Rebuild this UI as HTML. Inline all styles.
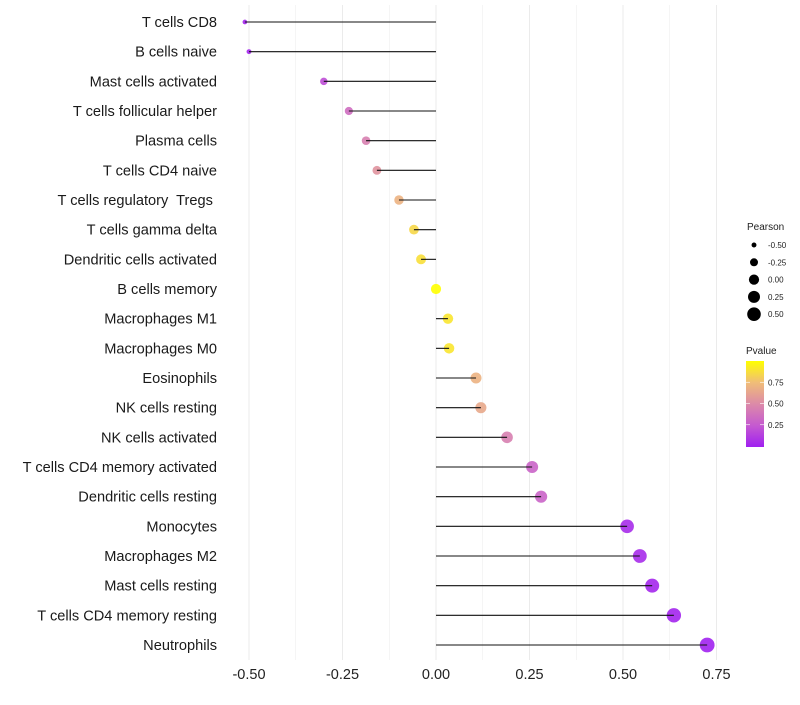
<!DOCTYPE html>
<html><head><meta charset="utf-8"><style>
body{margin:0;background:#fff;font-family:"Liberation Sans",sans-serif}
text{white-space:pre}
</style></head><body>
<svg id="c" width="800" height="700" xmlns="http://www.w3.org/2000/svg">
<defs><linearGradient id="pg" x1="0" y1="1" x2="0" y2="0">
<stop offset="0" stop-color="#a020f0"/><stop offset="0.25" stop-color="#c55ad0"/><stop offset="0.5" stop-color="#dc8aa8"/><stop offset="0.75" stop-color="#f0bd78"/><stop offset="1" stop-color="#ffff00"/></linearGradient></defs>
</svg>
<script>
const categories=["T cells CD8","B cells naive","Mast cells activated","T cells follicular helper","Plasma cells","T cells CD4 naive","T cells regulatory  Tregs ","T cells gamma delta","Dendritic cells activated","B cells memory","Macrophages M1","Macrophages M0","Eosinophils","NK cells resting","NK cells activated","T cells CD4 memory activated","Dendritic cells resting","Monocytes","Macrophages M2","Mast cells resting","T cells CD4 memory resting","Neutrophils"];
const pearson=[-0.511,-0.50,-0.30,-0.233,-0.187,-0.158,-0.099,-0.059,-0.04,0.0,0.032,0.035,0.107,0.12,0.19,0.257,0.281,0.511,0.545,0.578,0.636,0.725];
const pvalue=[0.02,0.02,0.2,0.35,0.45,0.55,0.7,0.85,0.88,1.0,0.9,0.9,0.7,0.65,0.45,0.3,0.3,0.05,0.05,0.03,0.02,0.01];
const xTicks=[-0.5,-0.25,0,0.25,0.5,0.75];
const xTickLabels=["-0.50","-0.25","0.00","0.25","0.50","0.75"];
const legendSizes=[-0.5,-0.25,0,0.25,0.5];
const legendSizeLabels=["-0.50","-0.25","0.00","0.25","0.50"];
const pTicks=[0.25,0.5,0.75];

const svg=document.getElementById('c');const NS="http://www.w3.org/2000/svg";
function el(t,a,p){const e=document.createElementNS(NS,t);for(const k in a)e.setAttribute(k,a[k]);(p||svg).appendChild(e);return e;}
const x=v=>436+v*374;
const y=i=>22+i*(623/21);
const r=v=>Math.sqrt(Math.max(2,26+40*v));
const stops=[[0,[160,32,240]],[0.25,[197,90,208]],[0.5,[220,138,168]],[0.75,[240,189,120]],[1,[255,255,0]]];
function col(p){for(let i=1;i<stops.length;i++){if(p<=stops[i][0]){const a=stops[i-1],b=stops[i],t=(p-a[0])/(b[0]-a[0]);return 'rgb('+a[1].map((c,j)=>Math.round(c+(b[1][j]-c)*t)).join(',')+')';}}return 'rgb(255,255,0)';}
for(let v=-0.5;v<=0.751;v+=0.125){const g=el('line',{x1:x(v),x2:x(v),y1:5,y2:660,stroke:'#ebebeb','stroke-width':Math.abs(v*4-Math.round(v*4))<1e-6?1:0.5});
}
xTicks.forEach((v,i)=>{const t=el('text',{x:x(v),y:679,'text-anchor':'middle','font-size':14.5,fill:'#222'});t.textContent=xTickLabels[i];
});
categories.forEach((c,i)=>{
const t=el('text',{x:217,y:y(i)+5,'text-anchor':'end','font-size':14.6,fill:'#1a1a1a'});t.textContent=c;

const d=el('circle',{cx:x(pearson[i]),cy:y(i),r:r(pearson[i]),fill:col(pvalue[i]),'fill-opacity':0.9});

const l=el('line',{x1:x(0),x2:x(pearson[i]),y1:y(i),y2:y(i),stroke:'#111','stroke-width':1.1});

});
const lt=el('text',{x:747,y:230,'font-size':10,fill:'#222'});lt.textContent='Pearson';

legendSizes.forEach((v,i)=>{const cy=245+i*17.3;
const c=el('circle',{cx:754,cy:cy,r:r(v)*1.0,fill:'#000'});
const t=el('text',{x:768,y:cy+3,'font-size':8,fill:'#222'});t.textContent=legendSizeLabels[i];});
const pt=el('text',{x:746,y:354,'font-size':10,fill:'#222'});pt.textContent='Pvalue';

const bar=el('rect',{x:746,y:361,width:18,height:86,fill:'url(#pg)'});
pTicks.forEach(v=>{const cy=446-v*85;
el('line',{x1:746,x2:750,y1:cy,y2:cy,stroke:'#fff','stroke-width':0.6});el('line',{x1:760,x2:764,y1:cy,y2:cy,stroke:'#fff','stroke-width':0.6});
const t=el('text',{x:768,y:cy+3,'font-size':8,fill:'#222'});t.textContent=v.toFixed(2);});
</script>
</body></html>
